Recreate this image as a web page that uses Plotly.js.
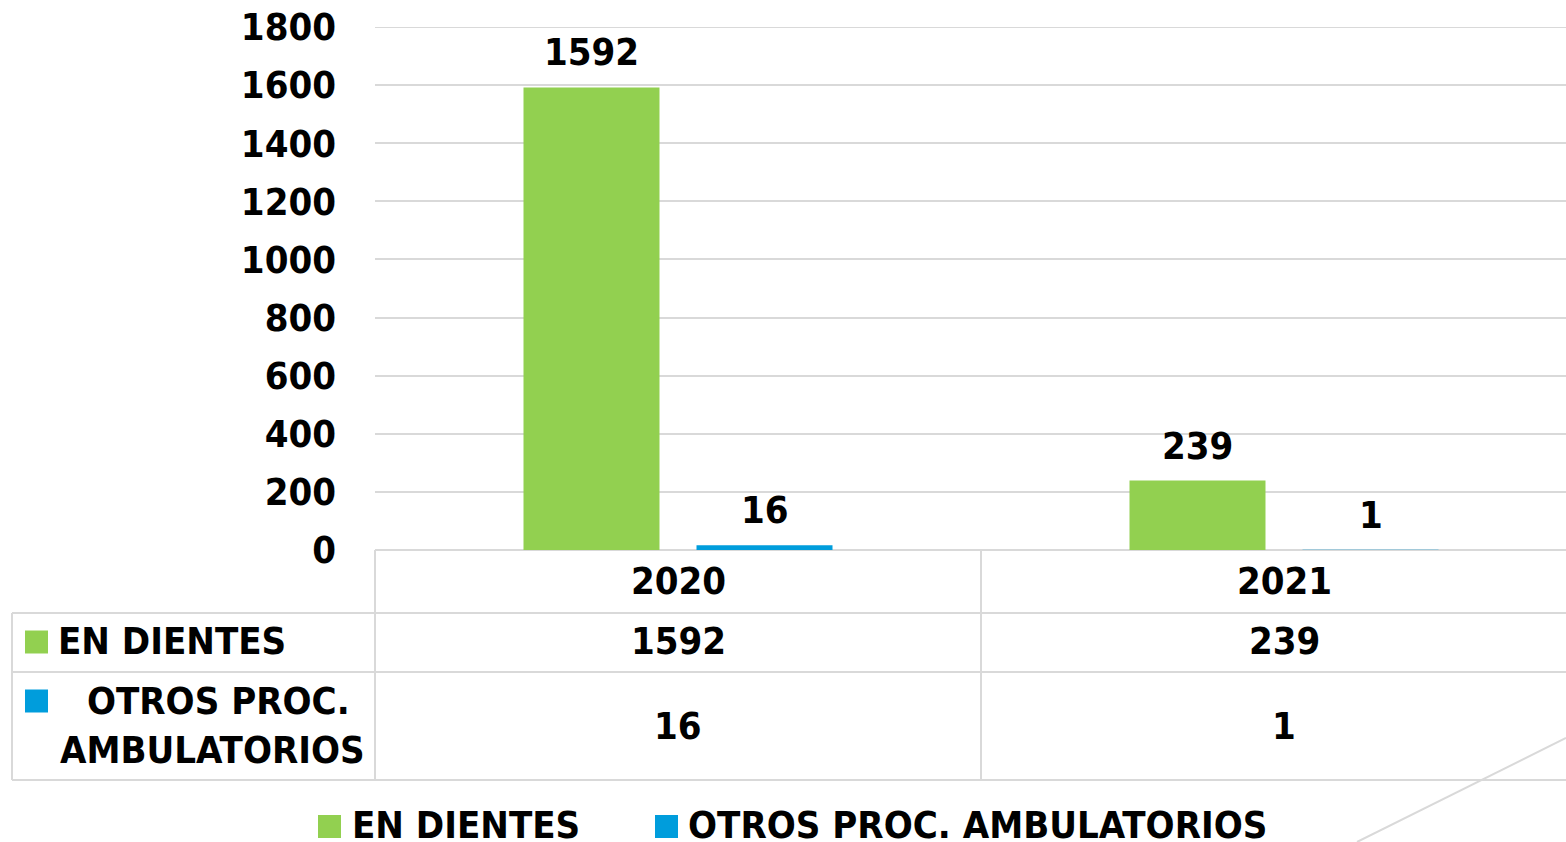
<!DOCTYPE html>
<html>
<head>
<meta charset="utf-8">
<script src="https://cdn.plot.ly/plotly-3.0.1.min.js"></script>
<style>html,body{margin:0;padding:0;background:#fff;}#chart{width:1566px;height:842px;}</style>
</head>
<body>
<div id="chart"></div>
<script>
const categories = ['2020', '2021'];
const seriesNames = ['EN DIENTES', 'OTROS PROC. AMBULATORIOS'];
const tableLabels = ['EN DIENTES', ' OTROS PROC.<br>AMBULATORIOS'];
const enDientes = [1592, 239];
const otrosProc = [16, 1];
const yTicks = [0, 200, 400, 600, 800, 1000, 1200, 1400, 1600, 1800];

const seriesValues = [enDientes, otrosProc];
const colors = ['#92D050', '#009DDC'];

const W = 1566, H = 842;
const L = 375, R = 0, T = 27, B = 292;
const plotW = W - L - R, plotH = H - T - B;
const px2x = p => (p - L) / plotW;
const px2y = p => (H - B - p) / plotH;

const FONT = 'DejaVu Sans Condensed, DejaVu Sans, sans-serif';
const bargap = 0.429, bargroupgap = 0.214;
const groupW = 1 - bargap;
const slot = groupW / seriesValues.length;
const offsets = seriesValues.map((_, k) => -groupW / 2 + slot * (k + 0.5));

const traces = seriesValues.map((vals, k) => ({
  type: 'bar',
  x: categories.map((_, i) => i),
  y: vals,
  name: seriesNames[k],
  marker: {color: colors[k]},
  showlegend: false,
  hoverinfo: 'y'
}));

const gray = '#d9d9d9';
const shapes = [];
const annotations = [];
const txt = (text, x, y, xref, extra) => Object.assign({
  text, x, y, xref, yref: 'paper', showarrow: false,
  font: {family: FONT, size: 38, color: '#000', weight: 'bold'},
  xanchor: 'center', yanchor: 'middle'
}, extra || {});

// top gridline (range edge)
const yMax = yTicks[yTicks.length - 1];
shapes.push({type: 'line', xref: 'paper', yref: 'y', x0: 0, x1: 1, y0: yMax, y1: yMax,
  line: {color: gray, width: 2}, layer: 'below'});

// bar value labels
seriesValues.forEach((vals, k) => {
  vals.forEach((v, i) => {
    annotations.push({
      text: String(v), x: i + offsets[k], y: v, xref: 'x', yref: 'y',
      showarrow: false, yanchor: 'bottom', yshift: 11,
      font: {family: FONT, size: 38, color: '#000', weight: 'bold'}
    });
  });
});

// data table lines
[613, 672, 780].forEach(p => shapes.push({type: 'line', xref: 'paper', yref: 'paper',
  x0: px2x(12), x1: 1, y0: px2y(p), y1: px2y(p), line: {color: gray, width: 2}}));
shapes.push({type: 'line', xref: 'paper', yref: 'paper', x0: px2x(12), x1: px2x(12),
  y0: px2y(613), y1: px2y(780), line: {color: gray, width: 2}});
shapes.push({type: 'line', xref: 'paper', yref: 'paper', x0: 0, x1: 0,
  y0: px2y(550), y1: px2y(780), line: {color: gray, width: 2}});
for (let i = 0; i < categories.length - 1; i++) {
  shapes.push({type: 'line', xref: 'x', yref: 'paper', x0: i + 0.5, x1: i + 0.5,
    y0: px2y(550), y1: px2y(780), line: {color: gray, width: 2}});
}
// decorative diagonal
shapes.push({type: 'line', xref: 'paper', yref: 'paper', x0: px2x(1566), x1: px2x(1357),
  y0: px2y(738), y1: px2y(842), line: {color: gray, width: 2}});

// table header: categories
categories.forEach((c, i) => annotations.push(txt(c, i, px2y(581), 'x')));
// table rows
const rowY = [641, 726];
seriesValues.forEach((vals, k) => {
  vals.forEach((v, i) => annotations.push(txt(String(v), i, px2y(rowY[k]), 'x')));
});
// table row keys + labels
const keyY = [642, 701];
colors.forEach((c, k) => shapes.push({type: 'rect', xref: 'paper', yref: 'paper',
  x0: px2x(25), x1: px2x(48), y0: px2y(keyY[k] - 11.5), y1: px2y(keyY[k] + 11.5),
  fillcolor: c, line: {width: 0}}));
annotations.push(txt(tableLabels[0], px2x(56), px2y(641), 'paper', {xanchor: 'left'}));
annotations.push(txt(tableLabels[1], px2x(212), px2y(725), 'paper', {align: 'center'}));

// bottom legend
const legKeyX = [318, 655];
const legTextX = [350, 686];
colors.forEach((c, k) => {
  shapes.push({type: 'rect', xref: 'paper', yref: 'paper',
    x0: px2x(legKeyX[k]), x1: px2x(legKeyX[k] + 23), y0: px2y(815), y1: px2y(838),
    fillcolor: c, line: {width: 0}});
  annotations.push(txt(seriesNames[k], px2x(legTextX[k]), px2y(825), 'paper', {xanchor: 'left'}));
});

const layout = {
  width: W, height: H,
  margin: {l: L, r: R, t: T, b: B, pad: 0},
  paper_bgcolor: '#fff', plot_bgcolor: '#fff',
  barmode: 'group', bargap, bargroupgap,
  font: {family: FONT, size: 38, color: '#000', weight: 'bold'},
  xaxis: {
    type: 'linear', range: [-0.5, (W - L) / 606 - 0.5],
    showticklabels: false, showgrid: false, zeroline: false, showline: false, ticks: ''
  },
  yaxis: {
    range: [0, yMax], tickvals: yTicks, ticktext: yTicks.map(String),
    showgrid: true, gridcolor: gray, gridwidth: 2,
    zeroline: true, zerolinecolor: gray, zerolinewidth: 2,
    showline: false, ticks: '', ticklabelstandoff: 38,
    tickfont: {family: FONT, size: 38, color: '#000', weight: 'bold'}
  },
  shapes, annotations
};

Plotly.newPlot('chart', traces, layout, {displayModeBar: false, staticPlot: true});
</script>
</body>
</html>
